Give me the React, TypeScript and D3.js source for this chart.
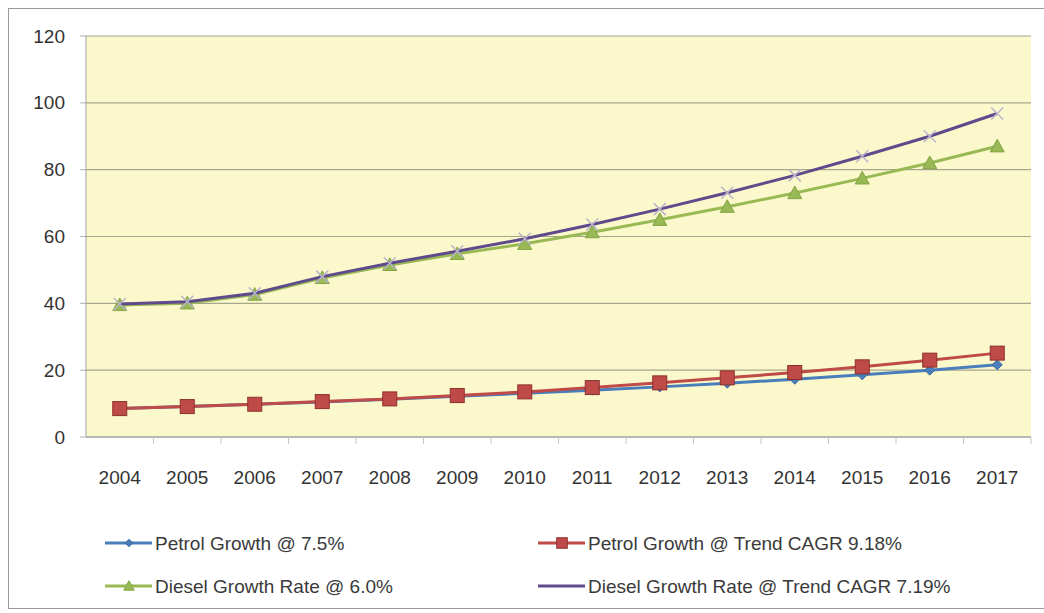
import React from "react";
import * as d3 from "d3";

const years = ["2004","2005","2006","2007","2008","2009","2010","2011","2012","2013","2014","2015","2016","2017"];
const petrol75 = [8.5, 9.1, 9.8, 10.5, 11.3, 12.2, 13.1, 14.0, 15.0, 16.1, 17.3, 18.6, 20.0, 21.6];
const petrolTrend = [8.5, 9.1, 9.8, 10.6, 11.4, 12.4, 13.5, 14.8, 16.2, 17.7, 19.3, 21.0, 23.0, 25.1];
const diesel60 = [39.5, 40.0, 42.6, 47.6, 51.5, 54.8, 57.8, 61.3, 65.0, 68.9, 73.0, 77.4, 82.0, 87.0];
const dieselTrend = [39.8, 40.5, 43.0, 48.0, 52.0, 55.6, 59.3, 63.6, 68.2, 73.1, 78.3, 84.0, 90.0, 96.8];
const yTicks = [0, 20, 40, 60, 80, 100, 120];
const legendLabels = [
  "Petrol Growth @ 7.5%",
  "Petrol Growth @ Trend CAGR 9.18%",
  "Diesel Growth Rate @ 6.0%",
  "Diesel Growth Rate @ Trend CAGR 7.19%",
];

const W = 1044, H = 613;
const left = 86, right = 1031, top = 36, bottom = 437;
const font = "'Liberation Sans', Arial, sans-serif";

const colors = ["#4a7ebb", "#be4b48", "#98b954", "#5f4b8b"];
const strokes = ["#3c6aa3", "#a33b38", "#84a546", "#55427d"];

function Marker({ kind, x, y, k = 1 }: { kind: number; x: number; y: number; k?: number }) {
  if (kind === 0) {
    const s = 5 * k;
    return <path d={`M${x},${y - s}L${x + s},${y}L${x},${y + s}L${x - s},${y}Z`} fill={colors[0]} stroke={strokes[0]} />;
  }
  if (kind === 1) {
    const s = 7 * k;
    return <rect x={x - s} y={y - s} width={2 * s} height={2 * s} fill={colors[1]} stroke="#8e2f2c" strokeWidth={1} />;
  }
  if (kind === 2) {
    const s = 7 * k;
    return <path d={`M${x},${y - s}L${x + s},${y + s * 0.8}L${x - s},${y + s * 0.8}Z`} fill={colors[2]} stroke={strokes[2]} />;
  }
  const s = 6 * k;
  return <path d={`M${x - s},${y - s}L${x + s},${y + s}M${x - s},${y + s}L${x + s},${y - s}`} stroke="#b9b4cc" strokeWidth={1.5} fill="none" />;
}

export default function App() {
  const x = d3.scaleBand<string>().domain(years).range([left, right]);
  const y = d3.scaleLinear().domain([0, 120]).range([bottom, top]);
  const cx = (yr: string) => (x(yr) as number) + x.bandwidth() / 2;
  const line = d3.line<number>().x((_, i) => cx(years[i])).y((d) => y(d));
  const series = [petrol75, petrolTrend, diesel60, dieselTrend];
  const order = [2, 3, 0, 1];

  return (
    <svg width={W} height={H} style={{ position: "absolute", left: 0, top: 0, background: "#fff" }}>
      <rect x={8.5} y={8.5} width={W - 4} height={600} fill="#fff" stroke="#9a9a9a" />
      <rect x={left} y={top} width={right - left} height={bottom - top} fill="#fbf8cc" />
      {yTicks.map((t) => (
        <g key={t}>
          {t > 0 && <line x1={left} x2={right} y1={y(t)} y2={y(t)} stroke="#a7a78c" strokeWidth={1.2} />}
          <line x1={left - 6} x2={left} y1={y(t)} y2={y(t)} stroke="#b0b0b0" />
          <text x={65} y={y(t)} dy="0.35em" textAnchor="end" fontFamily={font} fontSize={19} fill="#333">{t}</text>
        </g>
      ))}
      <line x1={left} x2={left} y1={top} y2={bottom} stroke="#a0a0a0" />
      <line x1={left} x2={right} y1={bottom} y2={bottom} stroke="#a0a0a0" strokeWidth={1.5} />
      {years.map((yr) => (
        <g key={yr}>
          <line x1={(x(yr) as number) + x.bandwidth()} x2={(x(yr) as number) + x.bandwidth()} y1={bottom} y2={bottom + 7} stroke="#c8c8c8" />
          <text x={cx(yr)} y={477} dy="0.35em" textAnchor="middle" fontFamily={font} fontSize={19} fill="#333">{yr}</text>
        </g>
      ))}
      {order.map((si) => (
        <g key={si}>
          <path d={line(series[si]) || ""} fill="none" stroke={colors[si]} strokeWidth={3} />
          {series[si].map((v, i) => (
            <Marker key={i} kind={si} x={cx(years[i])} y={y(v)} />
          ))}
        </g>
      ))}
      {legendLabels.map((lab, i) => {
        const lx = i % 2 === 0 ? 105 : 538;
        const ly = i < 2 ? 543 : 586;
        return (
          <g key={lab}>
            <line x1={lx} x2={lx + 47} y1={ly} y2={ly} stroke={colors[i]} strokeWidth={3} />
            {i !== 3 && <Marker kind={i} x={lx + 24} y={ly} k={0.75} />}
            <text x={lx + 50} y={ly} dy="0.35em" fontFamily={font} fontSize={19} fill="#3a3a3a">{lab}</text>
          </g>
        );
      })}
    </svg>
  );
}
